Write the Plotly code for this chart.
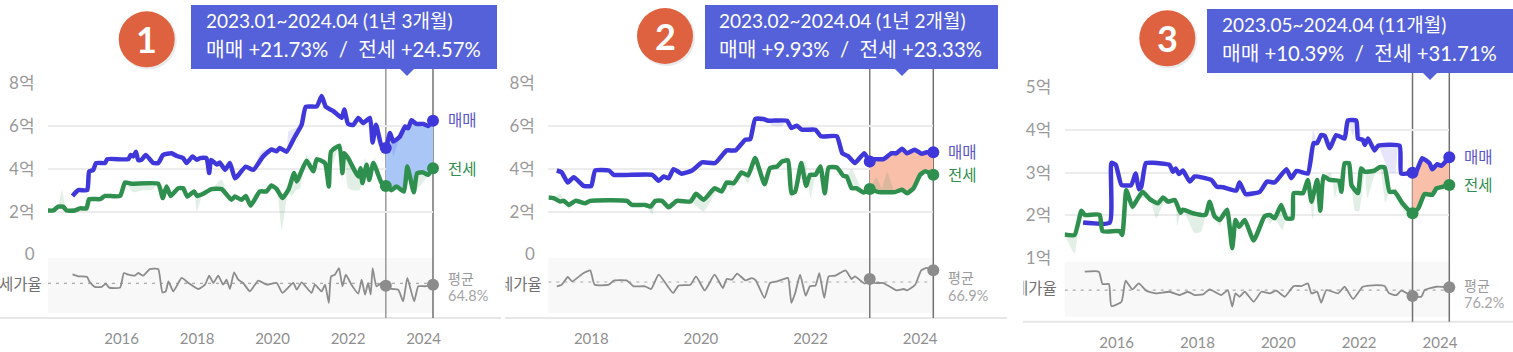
import plotly.graph_objects as go

W, H = 1513, 352
FONT = "Lato, 'Noto Sans CJK KR', sans-serif"

# ---------- Panel 1 ----------
P1_SALE_X = [2014.70,2014.85,2015.09,2015.14,2015.25,2015.32,2015.56,2015.62,2016.18,2016.24,2016.31,2016.38,2016.44,2016.53,2016.64,2016.84,2016.97,2017.10,2017.32,2017.46,2017.63,2017.72,2017.88,2017.99,2018.08,2018.25,2018.32,2018.37,2018.52,2018.60,2018.74,2018.87,2019.00,2019.09,2019.29,2019.49,2019.75,2019.97,2020.11,2020.19,2020.37,2020.59,2020.77,2020.88,2021.17,2021.30,2021.41,2021.61,2021.83,2021.90,2022.00,2022.14,2022.27,2022.40,2022.58,2022.65,2022.74,2022.89,2023.00,2023.11,2023.20,2023.37,2023.51,2023.59,2023.68,2023.81,2023.99,2024.12,2024.25]
P1_SALE_Y = [2.73,3.00,3.00,3.87,3.95,4.27,4.27,4.45,4.45,4.65,4.58,4.80,4.40,4.42,4.65,4.27,4.27,4.65,4.73,4.60,4.50,4.27,4.58,4.42,4.50,4.50,3.80,4.42,4.20,4.30,3.95,4.27,3.56,3.70,4.10,3.95,4.58,4.90,4.82,4.97,4.80,5.50,6.06,6.90,6.92,7.40,6.90,6.70,6.38,6.77,6.10,6.05,6.38,6.14,6.38,5.23,6.06,5.05,4.97,5.67,5.28,5.50,5.98,5.90,6.27,6.10,6.10,6.00,6.25]
P1_RENT_X = [2014.01,2014.19,2014.32,2014.45,2014.54,2014.76,2014.90,2015.07,2015.14,2015.43,2015.56,2015.96,2016.09,2016.26,2016.97,2017.09,2017.19,2017.30,2017.50,2017.63,2017.74,2017.92,2018.00,2018.16,2018.38,2018.65,2018.91,2019.00,2019.18,2019.29,2019.42,2019.66,2019.84,2019.97,2020.11,2020.26,2020.42,2020.57,2020.64,2020.90,2021.08,2021.17,2021.39,2021.49,2021.55,2021.77,2021.85,2021.90,2022.00,2022.27,2022.33,2022.38,2022.49,2022.56,2022.67,2022.89,2023.00,2023.15,2023.28,2023.48,2023.57,2023.74,2023.83,2023.99,2024.12,2024.25]
P1_RENT_Y = [2.05,2.05,2.23,2.23,2.05,2.05,2.15,2.15,2.58,2.58,2.73,2.73,3.36,3.30,3.30,2.63,3.17,2.73,3.09,3.09,2.70,2.94,2.73,2.83,3.05,3.05,2.55,2.70,2.55,2.73,2.28,2.94,2.94,3.22,3.05,2.63,3.02,3.80,3.41,4.38,3.88,4.45,4.27,3.17,4.81,5.08,3.80,4.73,4.50,3.64,4.03,3.33,4.19,3.48,4.27,3.33,3.20,3.00,3.17,2.94,4.11,2.90,3.80,3.83,3.72,4.03]
P1_SALE_RAW_X = [2018.60,2019.10,2019.70,2020.42,2020.60,2023.20,2023.42]
P1_SALE_RAW_Y = [4.05,3.50,4.85,5.75,5.90,4.60,5.85]
P1_RENT_RAW_X = [2014.42,2016.30,2016.55,2016.80,2017.99,2018.65,2018.85,2019.42,2020.24,2020.50,2020.62,2020.72,2020.90,2021.10,2021.30,2021.60,2021.85,2022.00,2022.10,2022.30,2022.45,2022.70,2022.85,2023.80,2024.00]
P1_RENT_RAW_Y = [3.00,2.90,3.00,3.00,2.00,3.50,2.60,2.20,1.14,2.70,3.00,3.05,4.65,4.10,4.50,4.20,3.40,3.10,3.00,3.00,4.50,4.50,3.60,3.00,3.40]
P1_RATIO_X = [2014.70,2014.85,2015.09,2015.14,2015.29,2015.47,2015.58,2015.67,2015.96,2016.06,2016.18,2016.35,2016.44,2016.57,2016.75,2016.97,2017.08,2017.17,2017.24,2017.37,2017.59,2017.77,2018.03,2018.21,2018.32,2018.43,2018.56,2018.69,2018.78,2018.87,2018.98,2019.09,2019.22,2019.40,2019.62,2019.84,2020.11,2020.26,2020.55,2020.64,2020.77,2021.03,2021.12,2021.30,2021.39,2021.49,2021.55,2021.65,2021.76,2021.85,2021.94,2022.09,2022.27,2022.36,2022.45,2022.53,2022.60,2022.65,2022.75,2022.89,2023.00,2023.15,2023.33,2023.46,2023.57,2023.75,2023.86,2024.04,2024.25]
P1_RATIO_Y = [72.7,71.0,70.4,66.6,61.6,61.6,64.5,61.0,61.0,73.9,72.4,71.6,73.9,71.6,77.4,77.4,56.9,57.7,66.6,57.7,69.5,65.1,59.8,63.6,71.6,65.1,71.6,63.6,68.0,59.8,74.5,68.0,65.1,57.7,67.2,63.6,65.1,56.3,65.1,59.2,65.7,56.3,63.6,57.7,63.6,47.4,71.0,72.4,78.3,62.2,72.4,63.6,55.7,68.0,54.8,65.1,54.8,78.3,62.2,65.1,62.7,59.8,59.2,48.9,69.5,48.9,62.2,62.2,63.6]

# ---------- Panel 2 ----------
P2_SALE_X = [2017.37,2017.46,2017.57,2017.68,2017.86,2018.00,2018.07,2018.32,2018.41,2019.11,2019.23,2019.32,2019.41,2019.50,2019.65,2019.84,2020.02,2020.26,2020.47,2020.63,2020.81,2020.90,2020.99,2021.14,2021.23,2021.57,2021.65,2021.75,2021.84,2022.09,2022.19,2022.48,2022.58,2022.69,2022.81,2022.98,2023.08,2023.17,2023.33,2023.48,2023.57,2023.67,2023.76,2023.90,2024.03,2024.12,2024.24]
P2_SALE_Y = [3.92,3.83,3.36,3.61,3.20,3.20,3.92,3.92,3.72,3.72,3.44,3.64,3.56,3.98,3.77,3.92,4.30,4.27,4.86,4.86,5.36,5.39,6.33,6.33,6.25,6.25,5.91,6.02,5.83,5.83,5.52,5.52,4.73,4.58,4.27,4.73,4.34,4.45,4.45,4.73,4.73,4.94,4.73,4.89,4.70,4.77,4.77]
P2_RENT_X = [2017.22,2017.31,2017.43,2017.50,2017.59,2017.71,2017.89,2017.98,2018.65,2018.74,2018.98,2019.08,2019.17,2019.29,2019.41,2019.56,2019.81,2019.91,2020.05,2020.25,2020.38,2020.47,2020.60,2020.74,2020.86,2020.99,2021.16,2021.26,2021.39,2021.48,2021.59,2021.65,2021.72,2021.83,2021.92,2021.99,2022.09,2022.18,2022.26,2022.33,2022.48,2022.60,2022.66,2022.75,2022.84,2022.97,2023.08,2023.24,2023.54,2023.67,2023.76,2023.88,2024.00,2024.09,2024.24]
P2_RENT_Y = [2.66,2.63,2.47,2.50,2.31,2.50,2.39,2.50,2.50,2.31,2.31,2.23,2.50,2.50,2.20,2.50,2.47,2.83,2.55,3.09,2.94,3.36,3.33,3.83,3.69,4.50,3.28,4.03,4.11,4.34,4.39,2.86,2.94,4.27,3.20,3.72,3.72,4.11,2.86,4.06,4.06,3.67,3.64,3.09,3.09,2.89,3.05,2.91,2.91,3.02,2.86,3.09,3.72,3.88,3.72]
P2_SALE_RAW_X = [2019.85,2020.55,2021.30,2021.48,2022.00,2023.55]
P2_SALE_RAW_Y = [4.10,4.70,6.00,6.00,5.70,4.55]
P2_RENT_RAW_X = [2017.43,2017.60,2017.80,2019.12,2019.40,2019.90,2020.05,2020.30,2020.55,2020.86,2021.20,2021.55,2021.65,2021.90,2022.00,2022.75,2022.85,2023.20,2023.30,2023.40,2023.75]
P2_RENT_RAW_Y = [2.85,2.10,2.60,1.85,2.10,2.30,2.00,3.00,3.00,3.30,3.10,4.60,2.60,4.40,2.60,4.00,3.50,3.60,3.10,3.85,2.80]
P2_RATIO_X = [2017.37,2017.46,2017.57,2017.65,2017.86,2017.98,2018.06,2018.32,2018.41,2018.65,2018.77,2018.98,2019.09,2019.23,2019.49,2019.59,2019.81,2019.91,2020.07,2020.25,2020.40,2020.47,2020.57,2020.66,2020.81,2020.93,2021.00,2021.16,2021.26,2021.39,2021.51,2021.59,2021.65,2021.72,2021.81,2021.91,2021.99,2022.09,2022.16,2022.25,2022.33,2022.45,2022.64,2022.75,2022.81,2022.99,2023.08,2023.17,2023.33,2023.57,2023.70,2023.76,2023.91,2024.02,2024.12,2024.24]
P2_RATIO_Y = [63.1,64.5,71.3,67.5,74.8,77.2,64.5,64.5,68.1,68.1,63.1,63.1,60.7,73.4,57.2,63.7,64.5,71.9,59.5,73.4,61.6,69.5,69.0,74.3,68.4,70.4,68.4,52.8,66.0,67.5,69.5,70.4,48.4,57.2,73.4,54.8,63.1,63.7,74.8,52.8,71.9,72.5,77.2,69.5,71.9,65.4,69.5,66.0,66.0,59.5,60.7,59.5,64.5,77.2,79.3,77.2]

# ---------- Panel 3 ----------
P3_SALE_X = [2015.17,2015.83,2015.87,2015.98,2016.12,2016.36,2016.47,2016.55,2016.61,2016.72,2016.90,2017.31,2017.39,2017.46,2017.54,2017.64,2017.81,2017.93,2018.34,2018.48,2018.63,2018.96,2019.04,2019.19,2019.54,2019.72,2019.91,2020.20,2020.32,2020.45,2020.73,2020.87,2020.96,2021.06,2021.15,2021.27,2021.43,2021.64,2021.72,2021.93,2021.97,2022.09,2022.14,2022.22,2022.38,2022.47,2023.00,2023.04,2023.32,2023.41,2023.56,2023.74,2023.81,2023.93,2024.03,2024.23]
P3_SALE_Y = [1.83,1.83,3.23,3.18,2.71,2.71,2.98,2.61,2.67,3.22,3.23,3.18,3.02,3.10,2.97,3.05,2.79,2.91,2.83,2.67,2.66,2.58,2.77,2.50,2.55,2.79,2.77,3.08,2.87,3.04,2.98,3.69,3.69,3.88,3.86,3.57,3.88,3.80,4.22,4.22,3.80,3.77,3.65,3.80,3.52,3.63,3.63,2.98,3.00,3.02,3.34,3.22,3.08,3.20,3.16,3.36]
P3_RENT_X = [2014.71,2014.96,2015.13,2015.21,2015.58,2015.65,2016.07,2016.14,2016.24,2016.39,2016.49,2016.64,2016.82,2017.02,2017.15,2017.27,2017.44,2017.58,2017.64,2017.89,2018.20,2018.30,2018.42,2018.55,2018.73,2018.86,2018.94,2019.03,2019.17,2019.39,2019.66,2019.79,2019.91,2020.07,2020.20,2020.35,2020.38,2020.61,2020.73,2020.82,2020.96,2021.04,2021.12,2021.27,2021.50,2021.56,2021.64,2021.75,2021.81,2021.97,2022.05,2022.14,2022.38,2022.51,2022.63,2022.75,2022.88,2023.08,2023.32,2023.46,2023.62,2023.81,2023.91,2024.03,2024.23]
P3_RENT_Y = [1.55,1.54,2.11,2.01,2.01,1.63,1.63,1.54,2.59,2.20,2.34,2.55,2.38,2.28,2.42,2.32,2.36,2.06,2.13,2.05,2.01,2.32,1.98,1.89,2.13,1.23,1.89,1.73,1.89,1.41,1.98,2.01,1.93,2.24,1.93,1.93,2.52,2.52,2.83,2.32,2.83,2.11,2.92,2.83,2.81,2.55,3.22,3.22,2.71,2.52,3.10,3.02,3.05,3.13,3.12,2.55,2.55,2.27,2.05,2.16,2.50,2.48,2.63,2.66,2.71]
P3_SALE_RAW_X = [2018.90,2019.20,2020.86,2021.30,2021.85,2022.00,2022.75,2022.90,2022.95,2023.56]
P3_SALE_RAW_Y = [2.55,2.40,4.00,3.60,3.85,4.05,3.00,3.00,3.55,3.25]
P3_RENT_RAW_X = [2014.96,2015.05,2016.39,2016.60,2016.98,2017.20,2017.50,2017.93,2018.09,2018.55,2019.10,2019.60,2019.80,2020.10,2020.85,2021.30,2021.40,2021.90,2022.00,2022.20,2022.40,2022.65,2022.85,2023.10,2023.80]
P3_RENT_RAW_Y = [1.10,1.70,2.10,2.40,1.93,2.35,1.75,1.58,1.62,1.75,1.65,1.70,1.80,1.65,1.90,3.00,2.40,2.10,2.10,2.40,3.00,2.30,2.50,2.10,2.40]
P3_RATIO_X = [2015.21,2015.56,2015.65,2015.81,2015.87,2016.12,2016.22,2016.39,2016.55,2016.73,2016.98,2017.31,2017.56,2017.76,2017.93,2018.14,2018.30,2018.59,2018.75,2018.86,2018.94,2019.04,2019.17,2019.39,2019.58,2019.79,2019.95,2020.16,2020.38,2020.57,2020.73,2020.82,2020.96,2021.06,2021.19,2021.48,2021.64,2021.85,2022.09,2022.42,2022.63,2022.74,2022.92,2023.04,2023.32,2023.54,2023.62,2023.91,2024.23]
P3_RATIO_Y = [92.4,92.4,81.5,81.5,62.1,65.9,84.4,76.8,82.1,75.6,73.3,74.7,71.8,74.7,71.8,72.4,76.8,71.8,76.2,61.5,73.3,70.3,74.7,65.9,74.7,73.3,75.6,70.3,79.7,79.7,82.1,73.3,74.7,65.0,76.2,73.3,79.1,68.3,79.1,80.6,79.7,73.3,71.8,75.6,70.9,70.3,76.2,79.1,78.6]

P1_XTICKS = [2016, 2018, 2020, 2022, 2024]
P2_XTICKS = [2018, 2020, 2022, 2024]
P3_XTICKS = [2016, 2018, 2020, 2022, 2024]
P1_YTICKS = [0, 2, 4, 6, 8]
P1_YLABELS = ["0", "2억", "4억", "6억", "8억"]
P3_YTICKS = [1, 2, 3, 4, 5]
P3_YLABELS = ["1억", "2억", "3억", "4억", "5억"]

BLUE = "#3f37d9"
GREEN = "#2f8f4e"
GRAY = "#8c8c8c"
BLUE_SEL = "#a9c6f6"
RED_SEL = "#f9bfa9"

panels = [
    dict(n="1", sx=P1_SALE_X, sy=P1_SALE_Y, rx=P1_RENT_X, ry=P1_RENT_Y,
         srx=P1_SALE_RAW_X, sry=P1_SALE_RAW_Y, rrx=P1_RENT_RAW_X, rry=P1_RENT_RAW_Y,
         qx=P1_RATIO_X, qy=P1_RATIO_Y, avg=64.8, sel=(2023.00, 2024.25), fill=BLUE_SEL,
         xt=P1_XTICKS, yt=P1_YTICKS, yl=P1_YLABELS, xr=(2014.05, 2024.25), yr=(0, 8),
         rr=(38.6, 87.15), dom=(48, 433), top=83.3, bot=254.3, btop=258, bbot=313,
         base=318, base_x=(0, 501), circ=(146.7, 39.3),
         box=(191, 5, 497, 69), ptr=407, t1="2023.01~2024.04 (1년 3개월)",
         t2="매매 +21.73%  /  전세 +24.57%", tx=204.5, ty=(20.5, 49),
         lab_x=446.5, sale_y=120.5, rent_y=169, avg_y=(278, 295.5), ratio_lab=(42.7, 283.7),
         clip=None, line1="#999999", tick_y=338),
    dict(n="2", sx=P2_SALE_X, sy=P2_SALE_Y, rx=P2_RENT_X, ry=P2_RENT_Y,
         srx=P2_SALE_RAW_X, sry=P2_SALE_RAW_Y, rrx=P2_RENT_RAW_X, rry=P2_RENT_RAW_Y,
         qx=P2_RATIO_X, qy=P2_RATIO_Y, avg=66.9, sel=(2023.08, 2024.24), fill=RED_SEL,
         xt=P2_XTICKS, yt=P1_YTICKS, yl=P1_YLABELS, xr=(2017.215, 2024.24), yr=(0, 8),
         rr=(39.5, 88.1), dom=(548.3, 933.3), top=83.3, bot=254.3, btop=258, bbot=313,
         base=318, base_x=(505, 1007), circ=(665, 36),
         box=(705, 5, 998, 69), ptr=902, t1="2023.02~2024.04 (1년 2개월)",
         t2="매매 +9.93%  /  전세 +23.33%", tx=718, ty=(20.5, 49),
         lab_x=947, sale_y=152, rent_y=175, avg_y=(277, 295), ratio_lab=(542.7, 283.7),
         clip=505.5, line1="#7a7a7a", tick_y=338),
    dict(n="3", sx=P3_SALE_X, sy=P3_SALE_Y, rx=P3_RENT_X, ry=P3_RENT_Y,
         srx=P3_SALE_RAW_X, sry=P3_SALE_RAW_Y, rrx=P3_RENT_RAW_X, rry=P3_RENT_RAW_Y,
         qx=P3_RATIO_X, qy=P3_RATIO_Y, avg=76.2, sel=(2023.32, 2024.23), fill=RED_SEL,
         xt=P3_XTICKS, yt=P3_YTICKS, yl=P3_YLABELS, xr=(2014.715, 2024.23), yr=(1, 5),
         rr=(52.7, 101.2), dom=(1064.7, 1449.3), top=87.3, bot=258, btop=261.7, bbot=316.7,
         base=321.7, base_x=(1023, 1513), circ=(1167.3, 38.3),
         box=(1207, 9, 1513, 73), ptr=1430, t1="2023.05~2024.04 (11개월)",
         t2="매매 +10.39%  /  전세 +31.71%", tx=1220.5, ty=(24.5, 53),
         lab_x=1463, sale_y=157, rent_y=184.5, avg_y=(285, 302), ratio_lab=(1058, 288),
         clip=1024, line1="#707070", tick_y=342),
]


def px(x):
    return x / W


def py(y):
    return 1 - y / H


def merged(mx, my, rx, ry):
    """The pale range follows the main series, except where its own readings differ."""
    keep = [(x, y) for x, y in zip(mx, my) if all(abs(x - v) > 0.05 for v in rx)]
    pts = sorted(keep + list(zip(rx, ry)))
    return [a for a, _ in pts], [b for _, b in pts]


fig = go.Figure()
layout = dict(
    width=W, height=H, margin=dict(l=0, r=0, t=0, b=0, autoexpand=False), paper_bgcolor="white",
    plot_bgcolor="rgba(0,0,0,0)", showlegend=False, hovermode=False,
    font=dict(family=FONT, color="#999999"),
)
shapes = []
annos = []


def text(x, y, s, size, color, anchor="left", **kw):
    annos.append(dict(xref="paper", yref="paper", x=px(x), y=py(y), text=s, showarrow=False,
                      xanchor=anchor, yanchor="middle", borderpad=0,
                      font=dict(family=FONT, size=size, color=color), **kw))


for i, p in enumerate(panels):
    xn = "x" if i == 0 else f"x{i+1}"
    ya = "y" if i == 0 else f"y{2*i+1}"
    yb = f"y{2*i+2}"
    xkey = "xaxis" if i == 0 else f"xaxis{i+1}"
    yakey = "yaxis" if i == 0 else f"yaxis{2*i+1}"
    ybkey = f"yaxis{2*i+2}"
    layout[xkey] = dict(domain=[px(p["dom"][0]), px(p["dom"][1])], range=list(p["xr"]),
                        anchor="free", position=py(p["base"]), tickvals=p["xt"],
                        ticktext=[str(v) for v in p["xt"]], showgrid=False, zeroline=False,
                        showline=False, ticks="outside", ticklen=p["tick_y"] - p["base"] - 13,
                        tickcolor="rgba(0,0,0,0)", tickfont=dict(family=FONT, size=15, color="#8f8f8f"))
    layout[yakey] = dict(domain=[py(p["bot"]), py(p["top"])], range=list(p["yr"]), anchor=xn,
                         tickvals=p["yt"], ticktext=p["yl"], showgrid=True, gridcolor="#ececec",
                         gridwidth=1.5, zeroline=False, showline=False, ticks="outside", ticklen=9,
                         tickcolor="rgba(0,0,0,0)", tickfont=dict(family=FONT, size=17, color="#9a9a9a"))
    layout[ybkey] = dict(domain=[py(p["bbot"]), py(p["btop"])], range=list(p["rr"]), anchor=xn,
                         visible=False)

    # grey ratio band and base line
    shapes.append(dict(type="rect", xref="paper", yref="paper", x0=px(p["dom"][0]), x1=px(p["dom"][1]),
                       y0=py(p["bbot"]), y1=py(p["btop"]), fillcolor="#f8f8f8", line_width=0, layer="below"))
    shapes.append(dict(type="line", xref="paper", yref="paper", x0=px(p["base_x"][0]), x1=px(p["base_x"][1]),
                       y0=py(p["base"]), y1=py(p["base"]), line=dict(color="#e6e6e6", width=2), layer="below"))

    s0, s1 = p["sel"]
    sub_s = [(x, y) for x, y in zip(p["sx"], p["sy"]) if s0 <= x <= s1]
    sub_r = [(x, y) for x, y in zip(p["rx"], p["ry"]) if s0 <= x <= s1]
    SMOOTH = dict(shape="spline", smoothing=0.45)
    hidden = dict(mode="lines", line=dict(width=0, color="rgba(0,0,0,0)", **SMOOTH), xaxis=xn)

    # selection fill between the two series
    fig.add_trace(go.Scatter(x=[a for a, _ in sub_s], y=[b for _, b in sub_s], yaxis=ya, **hidden))
    fig.add_trace(go.Scatter(x=[a for a, _ in sub_r], y=[b for _, b in sub_r], yaxis=ya, fill="tonexty",
                             fillcolor=p["fill"], **hidden))
    # pale monthly range behind each line
    mx, my = merged(p["sx"], p["sy"], p["srx"], p["sry"])
    fig.add_trace(go.Scatter(x=p["sx"], y=p["sy"], yaxis=ya, **hidden))
    fig.add_trace(go.Scatter(x=mx, y=my, yaxis=ya, fill="tonexty",
                             fillcolor="rgba(63,55,217,0.13)", **hidden))
    mx, my = merged(p["rx"], p["ry"], p["rrx"], p["rry"])
    fig.add_trace(go.Scatter(x=p["rx"], y=p["ry"], yaxis=ya, **hidden))
    fig.add_trace(go.Scatter(x=mx, y=my, yaxis=ya, fill="tonexty",
                             fillcolor="rgba(47,143,78,0.14)", **hidden))
    # main lines
    fig.add_trace(go.Scatter(x=p["sx"], y=p["sy"], xaxis=xn, yaxis=ya, mode="lines",
                             line=dict(color=BLUE, width=4.5, **SMOOTH), cliponaxis=False))
    fig.add_trace(go.Scatter(x=p["rx"], y=p["ry"], xaxis=xn, yaxis=ya, mode="lines",
                             line=dict(color=GREEN, width=4.5, **SMOOTH), cliponaxis=False))
    # ratio lines
    fig.add_trace(go.Scatter(x=list(p["xr"]), y=[p["avg"], p["avg"]], xaxis=xn, yaxis=yb, mode="lines",
                             line=dict(color="#aaaaaa", width=1.2, dash="3px,5px")))
    fig.add_trace(go.Scatter(x=p["qx"], y=p["qy"], xaxis=xn, yaxis=yb, mode="lines",
                             line=dict(color=GRAY, width=1.8, **SMOOTH), cliponaxis=False))

    # vertical range lines (paper coordinates so the one on the plot edge is not clipped)
    d0, d1 = p["dom"]
    r0, r1 = p["xr"]
    for v, c in ((s0, p["line1"]), (s1, "#707070")):
        vx = px(d0 + (v - r0) / (r1 - r0) * (d1 - d0))
        shapes.append(dict(type="line", xref="paper", yref="paper", x0=vx, x1=vx,
                           y0=py(p["base"]), y1=py(p["box"][3]), line=dict(color=c, width=1.5), layer="below"))

    # end markers
    mk = dict(mode="markers", xaxis=xn, cliponaxis=False)
    fig.add_trace(go.Scatter(x=[sub_s[0][0], sub_s[-1][0]], y=[sub_s[0][1], sub_s[-1][1]], yaxis=ya,
                             marker=dict(size=12, color=BLUE), **mk))
    fig.add_trace(go.Scatter(x=[sub_r[0][0], sub_r[-1][0]], y=[sub_r[0][1], sub_r[-1][1]], yaxis=ya,
                             marker=dict(size=12, color=GREEN), **mk))
    sub_q = [(x, y) for x, y in zip(p["qx"], p["qy"]) if s0 <= x <= s1]
    fig.add_trace(go.Scatter(x=[sub_q[0][0], sub_q[-1][0]], y=[sub_q[0][1], sub_q[-1][1]], yaxis=yb,
                             marker=dict(size=12, color=GRAY), **mk))

    # number badge
    cx, cy = p["circ"]
    r = 28
    shapes.append(dict(type="circle", xref="paper", yref="paper", x0=px(cx - r + 1), x1=px(cx + r + 2),
                       y0=py(cy + r + 2), y1=py(cy - r + 1), fillcolor="#e9e9e9", line_width=0))
    shapes.append(dict(type="circle", xref="paper", yref="paper", x0=px(cx - r), x1=px(cx + r),
                       y0=py(cy + r), y1=py(cy - r), fillcolor="#de6240", line_width=0))
    text(cx, cy, f"<b>{p['n']}</b>", 36, "white", anchor="center")

    # callout
    x0, y0, x1, y1 = p["box"]
    shapes.append(dict(type="rect", xref="paper", yref="paper", x0=px(x0), x1=px(x1), y0=py(y1), y1=py(y0),
                       fillcolor="#5561d8", line_width=0))
    t = p["ptr"]
    shapes.append(dict(type="path", xref="paper", yref="paper",
                       path=f"M {px(t-7)} {py(y1)} L {px(t)} {py(y1+7)} L {px(t+7)} {py(y1)} Z",
                       fillcolor="#5561d8", line_width=0))
    text(p["tx"], p["ty"][0], p["t1"], 19, "white")
    text(p["tx"], p["ty"][1], p["t2"], 20.3, "white")

    # side labels
    text(p["lab_x"], p["sale_y"], "매매", 15.5, "#5a55c8")
    text(p["lab_x"], p["rent_y"], "전세", 15.5, GREEN)
    text(p["lab_x"], p["avg_y"][0], "평균", 14, "#9a9a9a")
    text(p["lab_x"], p["avg_y"][1], f"{p['avg']}%", 14.5, "#a5a5a5")

    # left ratio label, cut off at the panel edge as in the reference
    text(p["ratio_lab"][0], p["ratio_lab"][1], "세가율", 15.5, "#6f6f6f", anchor="right")
    if p["clip"]:
        annos.append(dict(xref="paper", yref="paper", x=px(p["clip"]), y=py(p["ratio_lab"][1]), text=" ",
                          showarrow=False, xanchor="right", yanchor="middle", width=14, height=24,
                          bgcolor="white", borderpad=0))

layout["shapes"] = shapes
layout["annotations"] = annos
fig.update_layout(**layout)
fig.write_html("out.html", config={"displayModeBar": False},
               post_script="document.body.style.margin='0';document.body.style.overflow='hidden';")
